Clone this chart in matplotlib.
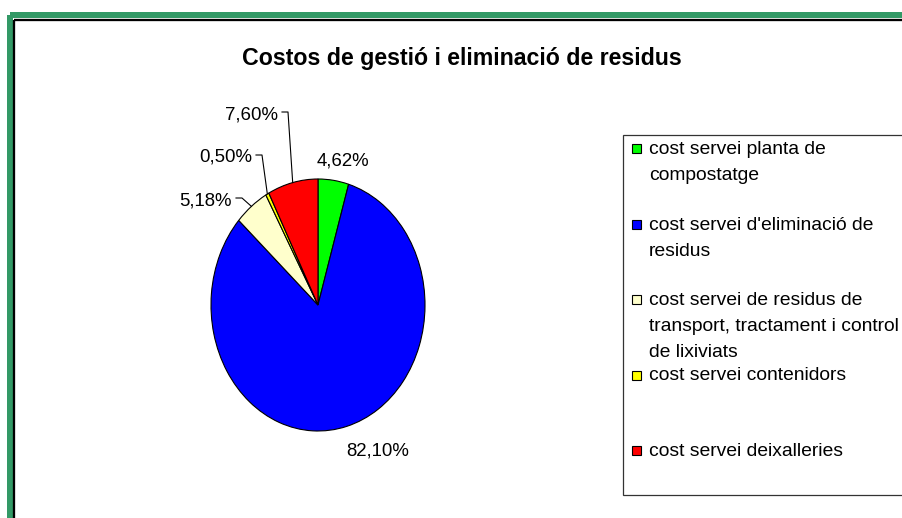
import matplotlib
matplotlib.use("Agg")
import numpy as np
import matplotlib.pyplot as plt
from matplotlib.patches import Rectangle

plt.rcParams['font.family'] = ['Liberation Sans', 'DejaVu Sans']

#data
title = "Costos de gestió i eliminació de residus"
categories = ["cost servei planta de\ncompostatge",
              "cost servei d'eliminació de\nresidus",
              "cost servei de residus de\ntransport, tractament i control\nde lixiviats",
              "cost servei contenidors",
              "cost servei deixalleries"]
values = [4.62, 82.10, 5.18, 0.50, 7.60]
colors = ["#00FF00", "#0000FF", "#FFFFCC", "#FFFF00", "#FF0000"]

#layout (pixels, image coords)
W, H = 902, 518
cx, cy, rx, ry = 318, 305, 107, 126
# label anchor (x, baseline y, ha) for each slice
label_pos = [(317, 166, "left"), (346, 455, "left"), (232, 205, "right"),
             (252, 162, "right"), (278, 119, "right")]
leader = [False, False, True, True, True]

fig = plt.figure(figsize=(W / 100, H / 100), dpi=100)
fig.patch.set_facecolor("white")

#pie axes (stretched vertically like the original)
ax_pie = fig.add_axes([(cx - rx) / W, (H - cy - ry) / H, 2 * rx / W, 2 * ry / H])
wedges, _ = ax_pie.pie(values, colors=colors, startangle=90, counterclock=False,
                       wedgeprops=dict(edgecolor="black", linewidth=0.8))
ax_pie.set_aspect("auto")
ax_pie.set_xlim(-1, 1)
ax_pie.set_ylim(-1, 1)
ax_pie.axis("off")

#overlay in pixel coords
ax = fig.add_axes([0, 0, 1, 1])
ax.set_xlim(0, W)
ax.set_ylim(H, 0)
ax.axis("off")
ax.patch.set_visible(False)

#frame
ax.add_patch(Rectangle((10, 15), 2000, 2000, facecolor="none",
                       edgecolor="#339966", linewidth=6 * 0.72))
ax.add_patch(Rectangle((14, 20.2), 2000, 2000, facecolor="none",
                       edgecolor="black", linewidth=2.3 * 0.72))

ax.text(461.5, 65, title, fontsize=16.7, fontweight="bold", ha="center", va="baseline")

#percent labels
for w, v, (lx, ly, ha), lead in zip(wedges, values, label_pos, leader):
    txt = f"{v:.2f}%".replace(".", ",")
    ax.text(lx, ly, txt, fontsize=13.4, ha=ha, va="baseline")
    if lead:
        mid = np.deg2rad((w.theta1 + w.theta2) / 2)
        ex, ey = cx + rx * np.cos(mid), cy - ry * np.sin(mid)
        yl = ly - 7
        ax.plot([lx + 4, lx + 10, ex], [yl, yl, ey], color="black", lw=0.8)

#legend
ax.add_patch(Rectangle((622.5, 134.5), 400, 360, facecolor="white",
                       edgecolor="#333333", linewidth=0.9))
for i, (lab, col) in enumerate(zip(categories, colors)):
    my = 148.5 + 75.5 * i
    ax.add_patch(Rectangle((631.5, my - 4.5), 9, 9, facecolor=col,
                           edgecolor="black", linewidth=0.8))
    for j, line in enumerate(lab.split("\n")):
        ax.text(649, my + 5.5 + 26 * j, line, fontsize=13.9, ha="left", va="baseline")

fig.savefig("out.png", dpi=100)
